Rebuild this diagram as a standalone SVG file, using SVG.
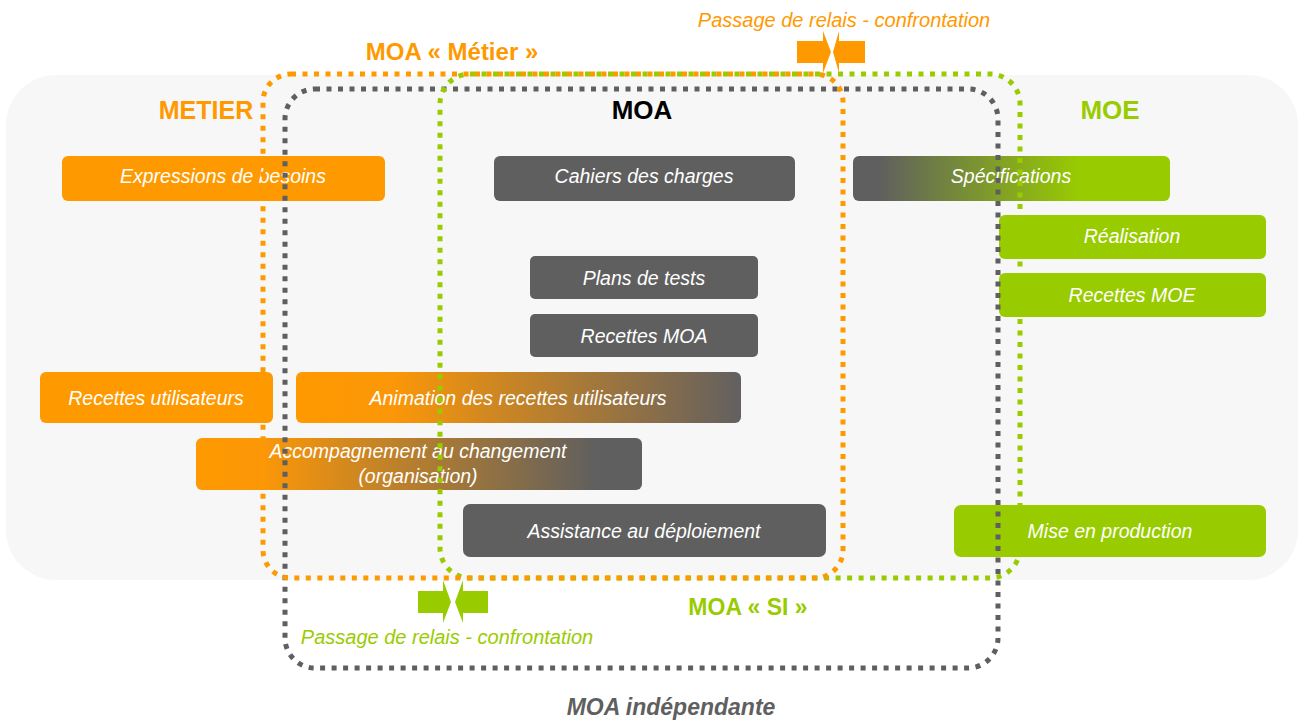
<svg xmlns="http://www.w3.org/2000/svg" width="1300" height="720" viewBox="0 0 1300 720">
<defs>
<style>
.box{stroke:none}
.bt{font-family:"Liberation Sans",Arial,sans-serif;font-style:italic;font-size:19.5px;fill:#ffffff;text-anchor:middle}
.hd{font-family:"Liberation Sans",Arial,sans-serif;font-weight:bold;text-anchor:middle}
.pr{font-family:"Liberation Sans",Arial,sans-serif;font-style:italic;font-size:20px;text-anchor:middle}
.frame{fill:none;stroke-width:5;stroke-dasharray:5 6.5}
.or{fill:#ff9900}
.gr{fill:#5f5f5f}
.gn{fill:#99cc00}
</style>
<linearGradient id="gSpec" x1="0" y1="0" x2="1" y2="0">
<stop offset="0" stop-color="#5f5f5f"/>
<stop offset="0.08" stop-color="#5f5f5f"/>
<stop offset="0.72" stop-color="#99cc00"/>
<stop offset="1" stop-color="#99cc00"/>
</linearGradient>
<linearGradient id="gAnim" x1="0" y1="0" x2="1" y2="0">
<stop offset="0" stop-color="#ff9900"/>
<stop offset="0.22" stop-color="#fb9708"/>
<stop offset="1" stop-color="#626060"/>
</linearGradient>
<linearGradient id="gAcc" x1="0" y1="0" x2="1" y2="0">
<stop offset="0" stop-color="#ff9900"/>
<stop offset="0.15" stop-color="#fb9708"/>
<stop offset="0.9" stop-color="#5f5f5f"/>
<stop offset="1" stop-color="#5f5f5f"/>
</linearGradient>
</defs>
<rect width="1300" height="720" fill="#ffffff"/>
<rect id="background" x="6" y="75" width="1292" height="505" rx="50" fill="#f7f7f7"/>

<text class="hd" x="206" y="119" font-size="25" fill="#ff9900">METIER</text>
<text class="hd" x="642" y="119" font-size="26" fill="#000000">MOA</text>
<text class="hd" x="1110" y="119" font-size="26" fill="#99cc00">MOE</text>

<g id="n-expressions"><rect class="box or" x="62" y="156" width="323" height="45" rx="6"/><text class="bt" x="223" y="183">Expressions de besoins</text></g>
<g id="n-cahiers"><rect class="box gr" x="494" y="156" width="301" height="45" rx="6"/><text class="bt" x="644" y="183">Cahiers des charges</text></g>
<g id="n-specifications"><rect class="box" fill="url(#gSpec)" x="853" y="156" width="317" height="45" rx="6"/><text class="bt" x="1011" y="183">Spécifications</text></g>
<g id="n-realisation"><rect class="box gn" x="999" y="215" width="267" height="44" rx="6"/><text class="bt" x="1132" y="243">Réalisation</text></g>
<g id="n-recettes-moe"><rect class="box gn" x="999" y="273" width="267" height="44" rx="6"/><text class="bt" x="1132" y="302">Recettes MOE</text></g>
<g id="n-plans"><rect class="box gr" x="530" y="256" width="228" height="43" rx="5"/><text class="bt" x="644" y="285">Plans de tests</text></g>
<g id="n-recettes-moa"><rect class="box gr" x="530" y="314" width="228" height="43" rx="5"/><text class="bt" x="644" y="343">Recettes MOA</text></g>
<g id="n-recettes-util"><rect class="box or" x="40" y="372" width="233" height="51" rx="6"/><text class="bt" x="156" y="405">Recettes utilisateurs</text></g>
<g id="n-animation"><rect class="box" fill="url(#gAnim)" x="296" y="372" width="445" height="51" rx="6"/><text class="bt" x="518" y="405">Animation des recettes utilisateurs</text></g>
<g id="n-accompagnement"><rect class="box" fill="url(#gAcc)" x="196" y="438" width="446" height="52" rx="6"/><text class="bt" x="418" y="458">Accompagnement au changement</text><text class="bt" x="418" y="483">(organisation)</text></g>
<g id="n-assistance"><rect class="box gr" x="463" y="504" width="363" height="53" rx="7"/><text class="bt" x="644" y="538">Assistance au déploiement</text></g>
<g id="n-mise"><rect class="box gn" x="954" y="505" width="312" height="52" rx="7"/><text class="bt" x="1110" y="538">Mise en production</text></g>

<g id="frames">
<rect id="f-independante" class="frame" x="285" y="89" width="713" height="579" rx="30" stroke="#5f5f5f"/>
<rect id="f-si" class="frame" x="440" y="74" width="580" height="504" rx="30" stroke="#99cc00"/>
<rect id="f-metier" class="frame" x="263" y="74" width="580" height="504" rx="28" stroke="#ff9900"/>
</g>

<g id="connectors">
<polygon class="or" points="797,41 823,41 823,31 831,52 823,73 823,63 797,63"/>
<polygon class="or" points="865,41 839,41 839,31 833,52 839,73 839,63 865,63"/>
<polygon class="gn" points="418,591 443,591 443,580 451,602 443,623 443,613 418,613"/>
<polygon class="gn" points="488,591 463,591 463,580 455,602 463,623 463,613 488,613"/>
</g>

<text class="pr" x="844" y="27" fill="#ff9900">Passage de relais - confrontation</text>
<text class="pr" x="447" y="644" fill="#99cc00">Passage de relais - confrontation</text>
<text class="hd" x="452" y="60" font-size="24" fill="#ff9900">MOA « Métier »</text>
<text class="hd" x="748" y="615" font-size="23" fill="#99cc00">MOA « SI »</text>
<text class="hd" x="671" y="715" font-size="23" font-style="italic" fill="#5f5f5f">MOA indépendante</text>
</svg>
